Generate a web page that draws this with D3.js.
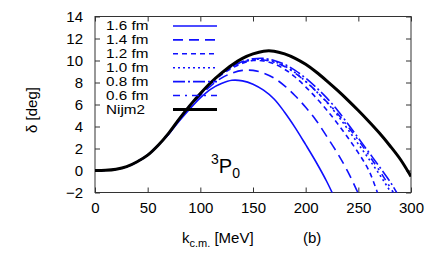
<!DOCTYPE html>
<html>
<head>
<meta charset="utf-8">
<script src="https://cdn.jsdelivr.net/npm/d3@7"></script>
<style>
  body { margin: 0; background: #fff; }
  text { font-family: "Liberation Sans", Arial, sans-serif; fill: #000; }
</style>
</head>
<body>
<div id="chart-wrapper"></div>
<script>
// momentum grid (MeV) and phase shifts (deg)
const kGrid = [0, 10, 20, 30, 40, 50, 60, 70, 80, 90, 100, 110, 120, 130, 140, 150,
  160, 170, 180, 190, 200, 210, 220, 230, 240, 250, 260, 270, 280, 290, 300];

const nijm2 = [0, 0.02, 0.12, 0.35, 0.8, 1.4, 2.3, 3.4, 4.7, 5.9, 7.0, 8.0, 8.85, 9.6, 10.2, 10.6,
  10.85, 10.85, 10.6, 10.2, 9.65, 8.95, 8.15, 7.3, 6.4, 5.45, 4.45, 3.4, 2.25, 1.0, -0.55];
const r16 = [0, 0.02, 0.12, 0.35, 0.8, 1.4, 2.3, 3.3, 4.5, 5.6, 6.6, 7.4, 7.9, 8.2, 8.15, 7.85,
  7.3, 6.5, 5.3, 3.9, 2.35, 0.75, -1.0, -3.0, -5.0, -7.0, -9.0, -11, -13, -15, -17];
const r14 = [0, 0.02, 0.12, 0.35, 0.8, 1.4, 2.3, 3.35, 4.6, 5.8, 6.8, 7.7, 8.4, 8.85, 9.1, 9.1,
  8.85, 8.4, 7.7, 6.8, 5.75, 4.55, 3.1, 1.6, -0.1, -2.1, -4.2, -6.4, -8.6, -11, -13];
const r12 = [0, 0.02, 0.12, 0.35, 0.8, 1.4, 2.3, 3.4, 4.7, 5.9, 6.9, 7.9, 8.7, 9.3, 9.75, 10.0,
  9.95, 9.7, 9.2, 8.5, 7.6, 6.6, 5.5, 4.3, 3.0, 1.6, 0.0, -2.5, -5.0, -7.5, -10];
const r10 = [0, 0.02, 0.12, 0.35, 0.8, 1.4, 2.3, 3.4, 4.7, 5.9, 6.95, 7.95, 8.8, 9.45, 9.85, 10.1,
  10.1, 9.9, 9.5, 8.9, 8.1, 7.2, 6.2, 5.05, 3.75, 2.4, 1.05, -0.35, -1.85, -3.5, -5.3];
const r08 = [0, 0.02, 0.12, 0.35, 0.8, 1.4, 2.3, 3.4, 4.7, 5.9, 6.95, 7.95, 8.8, 9.45, 9.9, 10.15,
  10.2, 10.0, 9.65, 9.1, 8.4, 7.55, 6.6, 5.5, 4.25, 2.95, 1.65, 0.35, -1.0, -2.6, -4.3];
const r06 = [0, 0.02, 0.12, 0.35, 0.8, 1.4, 2.3, 3.4, 4.7, 5.9, 6.95, 7.95, 8.8, 9.45, 9.85, 10.05,
  10.05, 9.85, 9.45, 8.85, 8.1, 7.2, 6.25, 5.2, 4.0, 2.75, 1.4, 0.0, -1.5, -3.1, -4.8];

const seriesNames = ["1.6 fm", "1.4 fm", "1.2 fm", "1.0 fm", "0.8 fm", "0.6 fm", "Nijm2"];
const seriesValues = [r16, r14, r12, r10, r08, r06, nijm2];
const dashes = ["none", "10,6", "5,4", "2,3", "12,3,2,3", "7,5,2,5", "none"];

const xTicks = [0, 50, 100, 150, 200, 250, 300];
const yTicks = [-2, 0, 2, 4, 6, 8, 10, 12, 14];

const width = 436, height = 259;
const margin = { left: 95, right: 25, top: 16.5, bottom: 66.5 };
const innerW = width - margin.left - margin.right;
const innerH = height - margin.top - margin.bottom;

const xScale = d3.scaleLinear().domain([0, 300]).range([0, innerW]);
const yScale = d3.scaleLinear().domain([-2, 14]).range([innerH, 0]);

const svg = d3.select("#chart-wrapper").append("svg")
  .attr("width", width).attr("height", height);

const bounds = svg.append("g")
  .attr("transform", `translate(${margin.left},${margin.top})`);

svg.append("defs").append("clipPath").attr("id", "plot-clip")
  .append("rect").attr("width", innerW).attr("height", innerH);

// axes with inward ticks, mirrored on top and right
const tickLen = 5;
const xAxis = d3.axisBottom(xScale).tickValues(xTicks).tickSize(-tickLen).tickPadding(10);
const xAxisTop = d3.axisTop(xScale).tickValues(xTicks).tickSize(-tickLen).tickFormat("");
const yAxis = d3.axisLeft(yScale).tickValues(yTicks).tickSize(-tickLen).tickPadding(12);
const yAxisRight = d3.axisRight(yScale).tickValues(yTicks).tickSize(-tickLen).tickFormat("");

const gx = bounds.append("g").attr("transform", `translate(0,${innerH})`).call(xAxis);
bounds.append("g").call(xAxisTop);
const gy = bounds.append("g").call(yAxis);
bounds.append("g").attr("transform", `translate(${innerW},0)`).call(yAxisRight);

bounds.selectAll(".domain").remove();
bounds.selectAll(".tick line").attr("stroke", "#333");
gx.selectAll("text").style("font-size", "15px").attr("dy", "0.71em");
gy.selectAll("text").style("font-size", "15px");

bounds.append("rect")
  .attr("width", innerW).attr("height", innerH)
  .attr("fill", "none").attr("stroke", "#333").attr("stroke-width", 1);

// curves
const lineGen = d3.line()
  .x((d, i) => xScale(kGrid[i]))
  .y(d => yScale(d))
  .curve(d3.curveCatmullRom.alpha(0.5));

const linesWrapper = bounds.append("g").attr("clip-path", "url(#plot-clip)");
seriesValues.forEach((vals, i) => {
  const isRef = i === seriesValues.length - 1;
  linesWrapper.append("path")
    .attr("d", lineGen(vals))
    .attr("fill", "none")
    .attr("stroke", isRef ? "#000" : "#1010ff")
    .attr("stroke-width", isRef ? 3 : 1.6)
    .attr("stroke-dasharray", dashes[i]);
});

// legend (text stretched horizontally like the original's squat glyphs)
const legend = svg.append("g");
seriesNames.forEach((name, i) => {
  const y = 26 + i * 13.9;
  const isRef = i === seriesNames.length - 1;
  legend.append("text")
    .attr("transform", `translate(106,${y}) scale(1.22,1)`)
    .attr("dy", "0.35em")
    .style("font-size", "12.5px")
    .text(name);
  legend.append("line")
    .attr("x1", 173).attr("x2", 217).attr("y1", y).attr("y2", y)
    .attr("stroke", isRef ? "#000" : "#1010ff")
    .attr("stroke-width", isRef ? 3 : 1.6)
    .attr("stroke-dasharray", dashes[i]);
});

// labels
svg.append("text")
  .attr("transform", "translate(37,110) rotate(-90)")
  .attr("text-anchor", "middle")
  .style("font-size", "15px")
  .text("δ [deg]");

const xLabel = svg.append("text")
  .attr("x", 182).attr("y", 243)
  .style("font-size", "15px");
xLabel.append("tspan").text("k");
xLabel.append("tspan").attr("dy", 4).style("font-size", "11px").text("c.m.");
xLabel.append("tspan").attr("dy", -4).text(" [MeV]");

svg.append("text")
  .attr("x", 303).attr("y", 243)
  .style("font-size", "15px")
  .text("(b)");

const pLabel = svg.append("text")
  .attr("x", 211).attr("y", 173)
  .style("font-size", "20px");
pLabel.append("tspan").attr("dy", -9).style("font-size", "14px").text("3");
pLabel.append("tspan").attr("dy", 9).text("P");
pLabel.append("tspan").attr("dy", 5).style("font-size", "14px").text("0");
</script>
</body>
</html>
